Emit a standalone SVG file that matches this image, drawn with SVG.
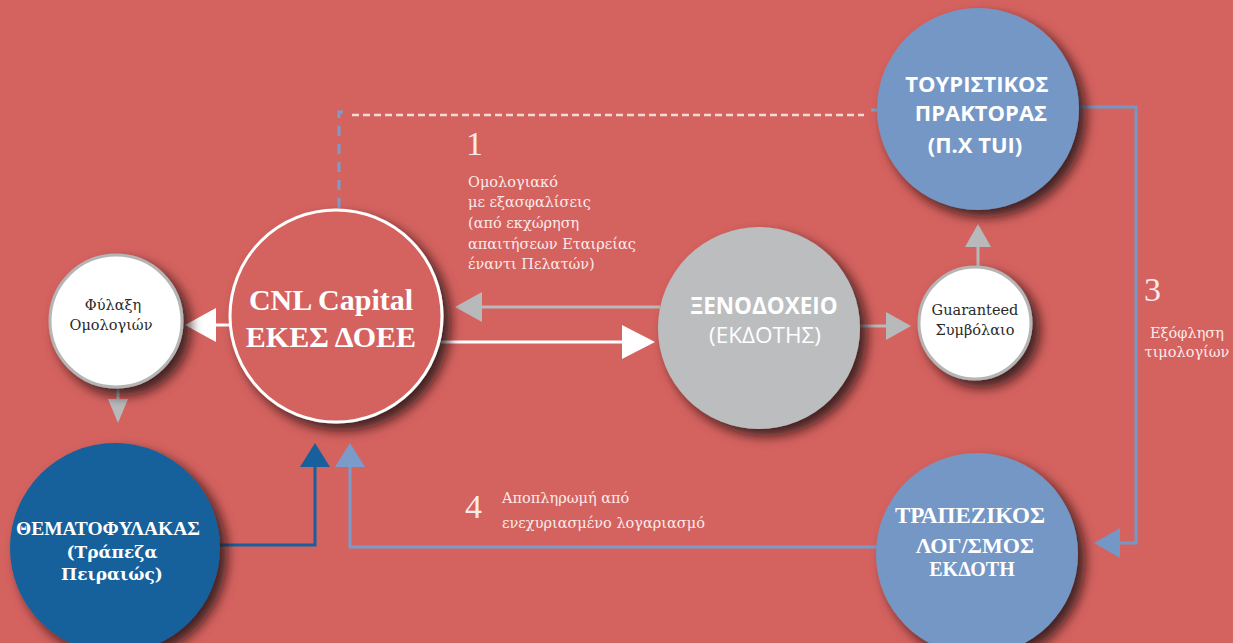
<svg xmlns="http://www.w3.org/2000/svg" width="1233" height="643" viewBox="0 0 1233 643">
<defs>
<filter id="sh" x="-30%" y="-30%" width="170%" height="170%">
<feDropShadow dx="7" dy="7" stdDeviation="6" flood-color="#1a0a0a" flood-opacity="0.8"/>
</filter>
<style>
.serif{font-family:"Liberation Serif","DejaVu Serif",serif}
.dserif{font-family:"DejaVu Serif","Liberation Serif",serif}
.sans{font-family:"Open Sans","Liberation Sans",sans-serif}
.lbl{fill:#fbeaea;font-size:14.5px}
.num{fill:#fbeaea;font-size:34px}
.wt{fill:#ffffff;font-weight:bold;text-anchor:middle}
.dk{fill:#2a2a2a;font-size:14.5px;text-anchor:middle}
</style>
</defs>
<rect width="1233" height="643" fill="#d4625f"/>

<g id="connectors" fill="none">
<path d="M339,208 V112 H346" stroke="#7f9cc8" stroke-width="3" stroke-dasharray="10,8"/>
<path d="M352,115 H864" stroke="#f6dada" stroke-width="2.5" stroke-dasharray="7,4"/>
<path d="M871,110 H880" stroke="#7f9cc8" stroke-width="3"/>
<path d="M1075,107 H1136 V543 H1118" stroke="#7597c6" stroke-width="3"/>
<polygon points="1094,543 1120,528 1120,558" fill="#7597c6"/>
<path d="M236,325 H214" stroke="#ffffff" stroke-width="3"/>
<polygon points="185,325 216,308 216,342" fill="#ffffff"/>
<path d="M118,388 V400" stroke="#b8b9bb" stroke-width="3"/>
<polygon points="118,423 108,399 128,399" fill="#b8b9bb"/>
<path d="M660,307 H478" stroke="#b8b9bb" stroke-width="3"/>
<polygon points="455,307 482,292 482,322" fill="#b8b9bb"/>
<path d="M440,342 H624" stroke="#ffffff" stroke-width="3"/>
<polygon points="655,342 622,325 622,359" fill="#ffffff"/>
<path d="M858,326 H889" stroke="#b8b9bb" stroke-width="3"/>
<polygon points="911,326 886,312 886,340" fill="#b8b9bb"/>
<path d="M978,268 V245" stroke="#b8b9bb" stroke-width="3"/>
<polygon points="978,224 965,247 991,247" fill="#b8b9bb"/>
<path d="M218,545 H315 V465" stroke="#17609c" stroke-width="3"/>
<polygon points="315,443 300,467 330,467" fill="#17609c"/>
<path d="M880,547 H350 V465" stroke="#7b9ccb" stroke-width="3"/>
<polygon points="350,443 335,467 365,467" fill="#7b9ccb"/>
</g>

<g id="tui">
<circle cx="978" cy="109" r="101" fill="#7597c6" filter="url(#sh)"/>
<text class="sans wt" font-size="22" x="977" y="92">ΤΟΥΡΙΣΤΙΚΟΣ</text>
<text class="sans wt" font-size="22" x="981" y="121">ΠΡΑΚΤΟΡΑΣ</text>
<text class="sans wt" font-size="22" x="975" y="153">(Π.Χ TUI)</text>
</g>

<g id="cnl">
<circle cx="336" cy="316" r="106" fill="#d4625f" stroke="#ffffff" stroke-width="3" filter="url(#sh)"/>
<text class="serif wt" font-size="30" x="331" y="310">CNL Capital</text>
<text class="serif wt" font-size="30" x="331" y="347">ΕΚΕΣ ΔΟΕΕ</text>
</g>

<g id="fylaxi">
<circle cx="116" cy="321" r="66" fill="#ffffff" stroke="#b5b5b5" stroke-width="3" filter="url(#sh)"/>
<text class="dserif dk" x="113" y="310">Φύλαξη</text>
<text class="dserif dk" x="111" y="330">Ομολογιών</text>
</g>

<g id="thematofylakas">
<circle cx="115" cy="548" r="105" fill="#17609c" filter="url(#sh)"/>
<text class="serif wt" font-size="19.5" x="108" y="535">ΘΕΜΑΤΟΦΥΛΑΚΑΣ</text>
<text class="dserif wt" font-size="17" x="112" y="558">(Τράπεζα</text>
<text class="dserif wt" font-size="17" x="112" y="580">Πειραιώς)</text>
</g>

<g id="xenodoxeio">
<circle cx="759" cy="328" r="101" fill="#bcbdbf" filter="url(#sh)"/>
<text class="sans wt" font-size="22.5" x="764" y="314">ΞΕΝΟΔΟΧΕΙΟ</text>
<text class="sans" font-size="22.5" fill="#ffffff" text-anchor="middle" x="765" y="343">(ΕΚΔΟΤΗΣ)</text>
</g>

<g id="guaranteed">
<circle cx="975" cy="323" r="56" fill="#ffffff" stroke="#b5b5b5" stroke-width="3" filter="url(#sh)"/>
<text class="dserif dk" x="975" y="315">Guaranteed</text>
<text class="dserif dk" x="975" y="335">Συμβόλαιο</text>
</g>

<g id="trapezikos">
<circle cx="977" cy="554" r="101" fill="#7597c6" filter="url(#sh)"/>
<text class="serif wt" font-size="23" x="970" y="523">ΤΡΑΠΕΖΙΚΟΣ</text>
<text class="serif wt" font-size="22" x="975" y="553">ΛΟΓ/ΣΜΟΣ</text>
<text class="serif wt" font-size="20" x="972" y="576">ΕΚΔΟΤΗ</text>
</g>

<g id="labels">
<text class="serif num" font-size="30" x="466" y="155">1</text>
<text class="dserif lbl" x="468" y="187">Ομολογιακό</text>
<text class="dserif lbl" x="468" y="207">με εξασφαλίσεις</text>
<text class="dserif lbl" x="468" y="228">(από εκχώρηση</text>
<text class="dserif lbl" x="468" y="249">απαιτήσεων Εταιρείας</text>
<text class="dserif lbl" x="468" y="269">έναντι Πελατών)</text>
<text class="serif num" x="1144" y="301">3</text>
<text class="dserif lbl" text-anchor="middle" x="1187" y="338">Εξόφληση</text>
<text class="dserif lbl" text-anchor="middle" x="1187" y="357">τιμολογίων</text>
<text class="serif num" x="465" y="518">4</text>
<text class="dserif lbl" x="502" y="503">Αποπληρωμή από</text>
<text class="dserif lbl" x="502" y="528">ενεχυριασμένο λογαριασμό</text>
</g>
</svg>
